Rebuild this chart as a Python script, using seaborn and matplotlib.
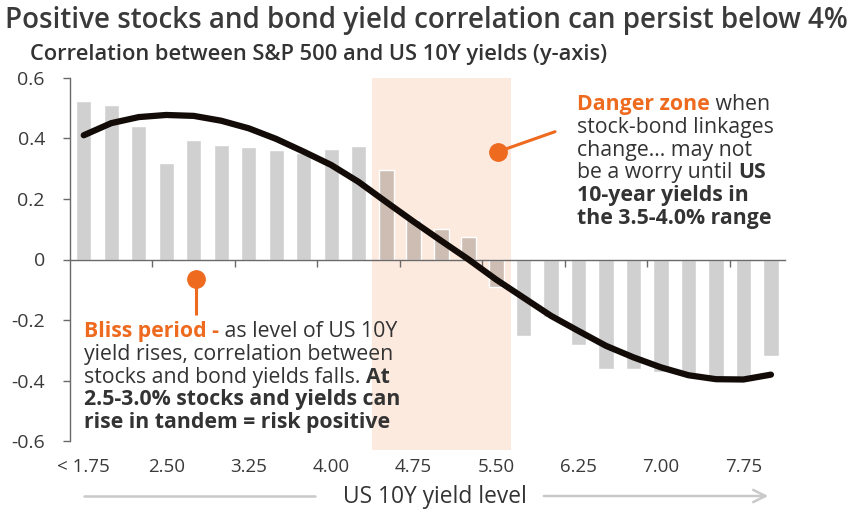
import numpy as np
import pandas as pd
import matplotlib
matplotlib.use("Agg")
import matplotlib.pyplot as plt
from matplotlib.ticker import FuncFormatter
from matplotlib.lines import Line2D
from matplotlib.patches import FancyArrowPatch
import seaborn as sns

# ---------------- data ----------------
yield_levels = ["1.75", "2.00", "2.25", "2.50", "2.75", "3.00", "3.25", "3.50",
                "3.75", "4.00", "4.25", "4.50", "4.75", "5.00", "5.25", "5.50",
                "5.75", "6.00", "6.25", "6.50", "6.75", "7.00", "7.25", "7.50",
                "7.75", "8.00"]
correlation = [0.523, 0.509, 0.442, 0.318, 0.395, 0.378, 0.372, 0.361, 0.350,
               0.364, 0.375, 0.294, 0.132, 0.102, 0.075, -0.090, -0.252, -0.190,
               -0.283, -0.362, -0.360, -0.370, -0.385, -0.395, -0.390, -0.320]
trend = [0.410, 0.450, 0.470, 0.477, 0.474, 0.458, 0.433, 0.398, 0.356, 0.312,
         0.256, 0.190, 0.125, 0.062, 0.000, -0.066, -0.126, -0.186, -0.236,
         -0.285, -0.323, -0.356, -0.382, -0.395, -0.396, -0.380]
tick_labels = ["< 1.75", "2.50", "3.25", "4.00", "4.75", "5.50", "6.25", "7.00", "7.75"]
y_ticks = [-0.6, -0.4, -0.2, 0.0, 0.2, 0.4, 0.6]
danger_zone = ["4.50", "5.50"]

# ---------------- style ----------------
W, H, DPI = 856, 518, 100
TEXT = "#333333"
ORANGE = "#ee6a1f"
BAR = "#d0d0d0"
ZONE_BAR = "#cdbdb2"
SHADE = "#fdeadf"
LINE = "#120b07"
AXIS = "#6a6a6a"

sns.set_theme(style="white")
plt.rcParams["font.family"] = ["Open Sans", "DejaVu Sans"]

fig = plt.figure(figsize=(W / DPI, H / DPI), dpi=DPI)
fig.patch.set_facecolor("white")
L, R, T, B = 70, 784.7, 77.7, 441.3
ax = fig.add_axes([L / W, 1 - B / H, (R - L) / W, (B - T) / H])
ax.set_facecolor("none")

def fx(px):
    return px / W

def fy(py):
    return 1 - py / H

renderer = fig.canvas.get_renderer()

def text_width(txt, size, weight):
    t = fig.text(0, 0, txt + "|", fontsize=size, fontweight=weight)
    t2 = fig.text(0, 0, "|", fontsize=size, fontweight=weight)
    w = t.get_window_extent(renderer).width - t2.get_window_extent(renderer).width
    t.remove(); t2.remove()
    return w

def fit_size(txt, weight, target, base=10.0):
    return base * target / text_width(txt, base, weight)

# ---------------- data frame ----------------
df = pd.DataFrame({"level": yield_levels, "corr": correlation, "trend": trend})
lo, hi = yield_levels.index(danger_zone[0]), yield_levels.index(danger_zone[1])
bar_colors = [ZONE_BAR if lo <= i <= hi else BAR for i in range(len(yield_levels))]

# shaded danger zone
span = ax.axvspan(lo - 0.5, hi + 0.55, ymin=-0.025, ymax=1.0, color=SHADE, lw=0, zorder=0)
span.set_clip_on(False)

sns.barplot(data=df, x="level", y="corr", hue="level", palette=bar_colors,
            legend=False, width=0.55, saturation=1, ax=ax, zorder=2)
sns.lineplot(x=np.arange(len(trend)), y=trend, color=LINE, lw=4.5, ax=ax,
             zorder=4, solid_capstyle="round")

# ---------------- axes ----------------
n = len(yield_levels)
ax.set_xlim(-0.5, n - 0.5)
ax.set_ylim(-0.6, 0.6)
ax.set_xlabel("")
ax.set_ylabel("")
for s in ["top", "right"]:
    ax.spines[s].set_visible(False)
ax.spines["left"].set_color(AXIS)
ax.spines["left"].set_linewidth(1.0)
ax.spines["bottom"].set_position(("data", 0))
ax.spines["bottom"].set_color(AXIS)
ax.spines["bottom"].set_linewidth(1.0)
ax.spines["bottom"].set_zorder(3)

label_pos = [yield_levels.index(l.replace("< ", "")) for l in tick_labels]
boundaries = [p - 0.5 for p in label_pos[1:]]
ax.set_xticks(boundaries)
ax.tick_params(axis="x", bottom=True, length=5, width=1, color=AXIS,
               direction="out", labelbottom=False)

ax.set_yticks(y_ticks)
ax.yaxis.set_major_formatter(FuncFormatter(lambda v, p: "0" if abs(v) < 1e-9 else f"{v:.1f}"))
ax.tick_params(axis="y", left=True, length=5, width=1, color=AXIS, direction="out",
               pad=13, labelsize=14, labelcolor="#3a3a3a")

sec = ax.secondary_xaxis("bottom")
sec.set_xticks(label_pos, labels=tick_labels)
sec.tick_params(length=0, pad=12, labelsize=13.5, labelcolor="#3a3a3a")
sec.spines["bottom"].set_visible(False)

# ---------------- titles ----------------
title = "Positive stocks and bond yield correlation can persist below 4%"
ts = fit_size(title, "semibold", 845)
fig.text(fx(5), fy(28), title, fontsize=ts, fontweight="semibold", color="#3a3a3a", va="baseline")
sub = "Correlation between S&P 500 and US 10Y yields (y-axis)"
ss = fit_size(sub, "semibold", 577)
fig.text(fx(30), fy(60), sub, fontsize=ss, fontweight="semibold", color=TEXT, va="baseline")

# ---------------- annotations ----------------
asz = fit_size("yield rises, correlation between", "normal", 308)

def draw_runs(x, y, runs, size):
    cur = x
    for txt, weight, color in runs:
        fig.text(fx(cur), fy(y), txt, fontsize=size, fontweight=weight, color=color,
                 va="baseline", ha="left")
        cur += text_width(txt, size, weight)

danger = [
    [("Danger zone", "bold", ORANGE), (" when", "normal", TEXT)],
    [("stock-bond linkages", "normal", TEXT)],
    [("change... may not", "normal", TEXT)],
    [("be a worry until ", "normal", TEXT), ("US", "bold", TEXT)],
    [("10-year yields in", "bold", TEXT)],
    [("the 3.5-4.0% range", "bold", TEXT)],
]
for i, runs in enumerate(danger):
    draw_runs(577, 110 + i * 22.8, runs, asz)

bliss = [
    [("Bliss period -", "bold", ORANGE), (" as level of US 10Y", "normal", TEXT)],
    [("yield rises, correlation between", "normal", TEXT)],
    [("stocks and bond yields falls. ", "normal", TEXT), ("At", "bold", TEXT)],
    [("2.5-3.0% stocks and yields can", "bold", TEXT)],
    [("rise in tandem = risk positive", "bold", TEXT)],
]
for i, runs in enumerate(bliss):
    draw_runs(84, 337 + i * 22.8, runs, asz)

# pointer dots
fig.add_artist(Line2D([fx(498), fx(555)], [fy(151.7), fy(131.7)], color=ORANGE, lw=2.2,
                      solid_capstyle="round"))
fig.add_artist(Line2D([fx(498)], [fy(151.7)], marker="o", ms=12.5, color=ORANGE, lw=0))
fig.add_artist(Line2D([fx(196), fx(196)], [fy(279), fy(315)], color=ORANGE, lw=2.2,
                      solid_capstyle="butt"))
fig.add_artist(Line2D([fx(196)], [fy(279)], marker="o", ms=12.5, color=ORANGE, lw=0))

# ---------------- x axis title with arrow ----------------
xl = "US 10Y yield level"
xs = fit_size(xl, "medium", 184)
fig.text(fx(435), fy(497), xl, fontsize=xs, fontweight="medium", color=TEXT, ha="center", va="center")
fig.add_artist(Line2D([fx(84), fx(315)], [fy(496), fy(496)], color="#c9c9c9", lw=1.8))
fig.add_artist(FancyArrowPatch((fx(541), fy(496)), (fx(771), fy(496)),
                               transform=fig.transFigure, arrowstyle="->",
                               mutation_scale=22, color="#c9c9c9", lw=1.8))

fig.savefig("out.png", dpi=DPI, facecolor="white")
